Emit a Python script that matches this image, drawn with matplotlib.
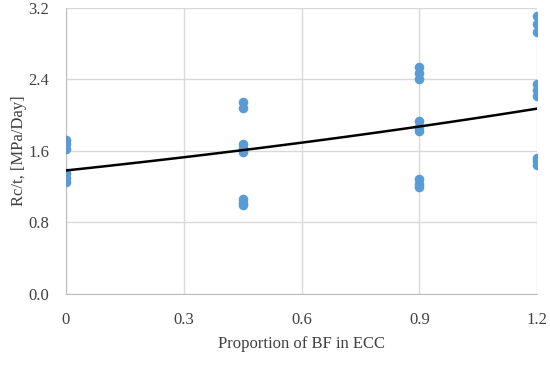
import numpy as np
import matplotlib.pyplot as plt

# measured points, grouped by BF proportion
bf = [0.0] * 6 + [0.45] * 8 + [0.9] * 9 + [1.2] * 9
rc_t = [1.72, 1.67, 1.62, 1.35, 1.30, 1.25,
        2.15, 2.08, 1.68, 1.63, 1.59, 1.06, 1.02, 0.99,
        2.54, 2.47, 2.40, 1.93, 1.87, 1.82, 1.28, 1.23, 1.19,
        3.11, 3.02, 2.93, 2.35, 2.28, 2.21, 1.52, 1.48, 1.44]

# exponential trendline y = a * exp(b x)
trend_a = 1.38
trend_b = 0.338

xticks = [0, 0.3, 0.6, 0.9, 1.2]
yticks = [0.0, 0.8, 1.6, 2.4, 3.2]

plt.rcParams['font.family'] = 'Liberation Serif'

fig = plt.figure(figsize=(5.5, 3.66), dpi=100)
ax = fig.add_axes([66 / 550, 1 - 294 / 366, 471 / 550, 286.5 / 366])

ax.scatter(bf, rc_t, s=48, color='#5B9BD5', zorder=3, linewidths=0)
xs = np.linspace(0, 1.2, 100)
ax.plot(xs, trend_a * np.exp(trend_b * xs), color='black', lw=1.8, zorder=4)

ax.set_xlim(0, 1.2)
ax.set_ylim(0, 3.2)
ax.set_xticks(xticks)
ax.set_xticklabels(['0', '0.3', '0.6', '0.9', '1.2'])
ax.set_yticks(yticks)
ax.set_yticklabels(['%.1f' % v for v in yticks])
ax.grid(True, color='#D9D9D9', lw=1)
ax.set_axisbelow(True)
for s in ['top', 'right']:
    ax.spines[s].set_visible(False)
for s in ['left', 'bottom']:
    ax.spines[s].set_color('#BFBFBF')
ax.tick_params(length=0, labelsize=12, colors='#404040')
ax.tick_params(axis='x', pad=13)
ax.tick_params(axis='y', pad=12)

ax.set_xlabel('Proportion of BF in ECC', fontsize=12, color='#404040', labelpad=6)
ax.set_ylabel('Rc/t, [MPa/Day]', fontsize=12, color='#404040', labelpad=1)

fig.savefig('out.png', dpi=100)
